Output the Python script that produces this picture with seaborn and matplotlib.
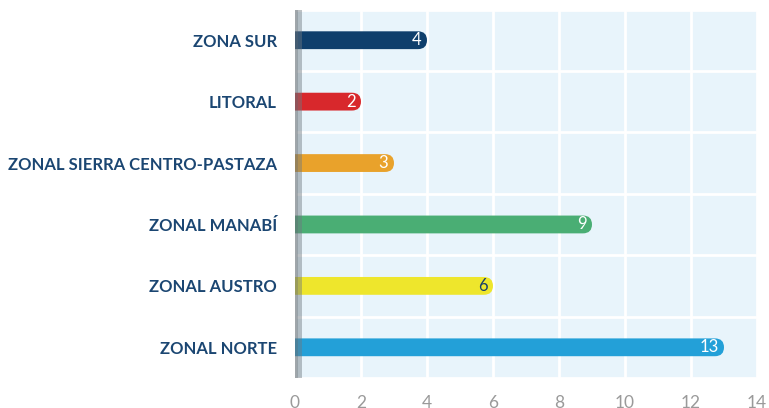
import matplotlib
matplotlib.use("Agg")
import matplotlib.pyplot as plt
import seaborn as sns
import pandas as pd
from matplotlib.patches import FancyBboxPatch

# Data
zonas = ["ZONA SUR", "LITORAL", "ZONAL SIERRA CENTRO-PASTAZA",
         "ZONAL MANABÍ", "ZONAL AUSTRO", "ZONAL NORTE"]
valores = [4, 2, 3, 9, 6, 13]
colores = ["#0F3F6C", "#D8282C", "#E9A22B", "#4AAE74", "#EEE62C", "#23A0D8"]
color_etiqueta = ["white", "white", "white", "white", "#1A3F6A", "white"]
x_ticks = [0, 2, 4, 6, 8, 10, 12, 14]

df = pd.DataFrame({"zona": zonas, "valor": valores})

sns.set_style("white")
plt.rcParams["font.family"] = ["Lato", "DejaVu Sans"]

fig = plt.figure(figsize=(7.69, 4.08), dpi=100)
ax = fig.add_axes([0.3836, 0.0735, 0.6008, 0.9032])
ax.set_facecolor("#E8F4FB")

sns.barplot(data=df, x="valor", y="zona", hue="zona", palette=colores,
            legend=False, width=0.29, ax=ax, saturation=1)

ax.set_xlim(0, 14)
ax.set_ylim(len(zonas) - 0.5, -0.5)

# rounded right ends
fig.canvas.draw()
bb = ax.get_window_extent()
px_x = bb.width / 14
px_y = bb.height / len(zonas)
r = 9 / px_x
for p in list(ax.patches):
    x0, y0 = p.get_x(), p.get_y()
    w, h = p.get_width(), p.get_height()
    fc = p.get_facecolor()
    p.remove()
    ax.add_patch(FancyBboxPatch((x0 - 0.6, y0), w + 0.6, h,
                                boxstyle=f"round,pad=0,rounding_size={r}",
                                mutation_aspect=px_x / px_y,
                                fc=fc, ec="none", zorder=3, clip_on=True))

for i, v in enumerate(valores):
    ax.text(v - 0.17, i, str(v), ha="right", va="center", fontsize=12,
            color=color_etiqueta[i], zorder=4)

# grid
ax.set_xticks(x_ticks)
ax.set_yticks(range(len(zonas)))
ax.set_yticks([i + 0.5 for i in range(-1, len(zonas))], minor=True)
ax.grid(axis="x", which="major", color="white", linewidth=2, zorder=1)
ax.grid(axis="y", which="minor", color="white", linewidth=2, zorder=1)
ax.grid(axis="y", which="major", visible=False)
ax.set_axisbelow(True)

# left axis bar (semi transparent, bars show through)
ax.axvspan(0, 0.22, color="#6E7880", alpha=0.45, lw=0, zorder=5)
ax.axvspan(0, 0.08, color="#5E666C", alpha=0.3, lw=0, zorder=5)

for s in ax.spines.values():
    s.set_visible(False)

ax.tick_params(axis="x", length=0, pad=12, labelsize=12.5, labelcolor="#9A9A9A")
ax.tick_params(axis="y", which="both", length=0, pad=13)
ax.set_yticklabels(zonas, fontsize=12, fontweight="bold", color="#1B4672")
ax.set_xlabel("")
ax.set_ylabel("")

fig.savefig("out.png", dpi=100)
